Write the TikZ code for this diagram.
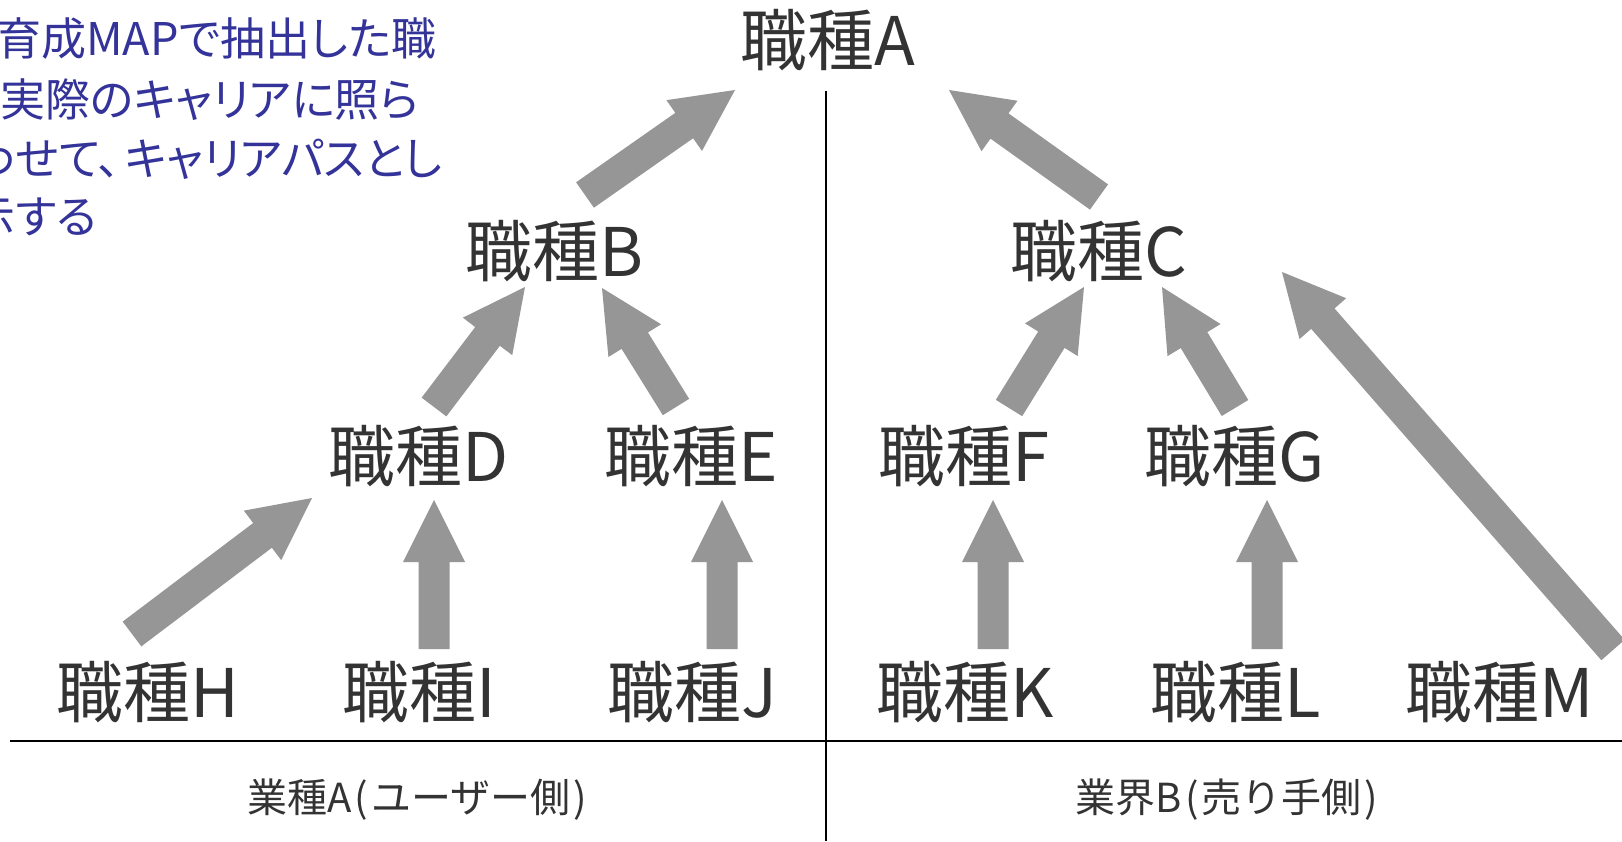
\documentclass[tikz,border=0pt]{standalone}
\usepackage{fontspec}
\setmainfont{Noto Sans CJK JP}
\newfontfamily\propfont[CharacterWidth=AlternateProportional]{Noto Sans CJK JP}
\usetikzlibrary{calc}
\definecolor{arrowgray}{RGB}{150,150,150}
\definecolor{labelgray}{RGB}{51,51,51}
\definecolor{noteblue}{RGB}{51,51,153}
\tikzset{
  job/.style={font=\fontsize{33.5}{36}\selectfont, text=labelgray, inner sep=0pt, anchor=base},
  sector/.style={font=\fontsize{20}{24}\selectfont, text=labelgray, inner sep=0pt, anchor=base},
  note/.style={font=\propfont\fontsize{22.5}{26}\selectfont, text=noteblue, inner sep=0pt, anchor=base west},
  divider/.style={draw=black, line width=1.25pt},
}
\newcommand{\blockarrow}[2]{%
  \coordinate (bab) at ($(#2)!31pt!(#1)$);
  \fill[arrowgray] ($(#1)!7.75pt!90:(#2)$) -- ($(bab)!7.75pt!90:(#2)$) -- ($(bab)!15.5pt!90:(#2)$) -- (#2) -- ($(bab)!15.5pt!-90:(#2)$) -- ($(bab)!7.75pt!-90:(#2)$) -- ($(#1)!7.75pt!-90:(#2)$) -- cycle;
}
\begin{document}
\begin{tikzpicture}[x=0.5pt,y=-0.5pt]
\useasboundingbox (0,0) rectangle (1622,841);
\clip (0,0) rectangle (1622,841);
\fill[white] (0,0) rectangle (1622,841);
% note text
\node[note] (n1) at (-4,55) {育成MAPで抽出した職};
\node[note] (n2) at (0,116) {実際のキャリアに照ら};
\node[note] (n3) at (-30,175) {わせて、\hspace{2pt}キャリアパスとし};
\node[note] (n4) at (-30,233) {示する};
% dividers
\coordinate (hl) at (10,741);
\coordinate (hr) at (1622,741);
\coordinate (vt) at (826,91);
\coordinate (vb) at (826,841);
\draw[divider] (hl) -- (hr);
\draw[divider] (vt) -- (vb);
% job nodes
\node[job] (A) at (828,65) {職種A};
\node[job] (B) at (555,276) {職種B};
\node[job] (C) at (1099,276) {職種C};
\node[job] (D) at (419,481) {職種D};
\node[job] (E) at (691,481) {職種E};
\node[job] (F) at (964,481) {職種F};
\node[job] (G) at (1235,481) {職種G};
\node[job] (H) at (148,717) {職種H};
\node[job] (I) at (419,717) {職種I};
\node[job] (J) at (692,717) {職種J};
\node[job] (K) at (965,717) {職種K};
\node[job] (L) at (1236,717) {職種L};
\node[job] (M) at (1500,717) {職種M};
\node[sector] (SA) at (417,812) {業種A\hspace{1.5pt}(\hspace{1.5pt}ユーザー側\hspace{1.5pt})};
\node[sector] (SB) at (1227,812) {業界B\hspace{1.5pt}(\hspace{1.5pt}売り手側\hspace{1.5pt})};
% arrow ends
\coordinate (BAt) at (585,195);  \coordinate (BAh) at (735,90);
\coordinate (CAt) at (1099,197); \coordinate (CAh) at (949,90);
\coordinate (DBt) at (434,407);  \coordinate (DBh) at (525,287);
\coordinate (EBt) at (676,407);  \coordinate (EBh) at (602,288);
\coordinate (FCt) at (1009,408); \coordinate (FCh) at (1084,287);
\coordinate (GCt) at (1235,408); \coordinate (GCh) at (1162,287);
\coordinate (HDt) at (132,634);  \coordinate (HDh) at (312,498);
\coordinate (IDt) at (434,649);  \coordinate (IDh) at (434,500);
\coordinate (JEt) at (722,649);  \coordinate (JEh) at (722,500);
\coordinate (KFt) at (993,649);  \coordinate (KFh) at (993,500);
\coordinate (LGt) at (1267,649); \coordinate (LGh) at (1267,500);
\coordinate (MCt) at (1613,650); \coordinate (MCh) at (1282,272);
\blockarrow{BAt}{BAh}
\blockarrow{CAt}{CAh}
\blockarrow{DBt}{DBh}
\blockarrow{EBt}{EBh}
\blockarrow{FCt}{FCh}
\blockarrow{GCt}{GCh}
\blockarrow{HDt}{HDh}
\blockarrow{IDt}{IDh}
\blockarrow{JEt}{JEh}
\blockarrow{KFt}{KFh}
\blockarrow{LGt}{LGh}
\blockarrow{MCt}{MCh}
\end{tikzpicture}
\end{document}
